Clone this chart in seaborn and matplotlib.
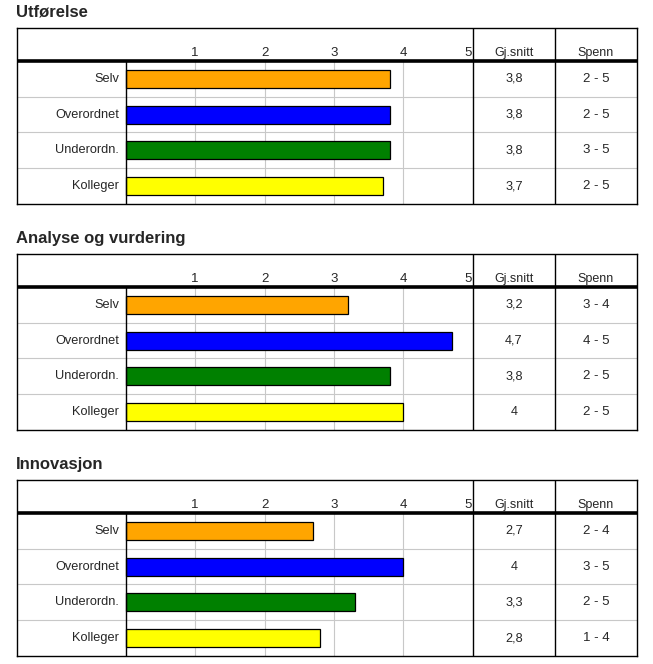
import numpy as np
import matplotlib
matplotlib.use("Agg")
import matplotlib.pyplot as plt
import seaborn as sns

# --- data ---
categories = ['Selv', 'Overordnet', 'Underordn.', 'Kolleger']
bar_colors = ['#FFA500', '#0000FF', '#008000', '#FFFF00']
scale_ticks = [1, 2, 3, 4, 5]

titles = ['Utførelse', 'Analyse og vurdering', 'Innovasjon']
utforelse_avg = [3.8, 3.8, 3.8, 3.7]
utforelse_span = ['2 - 5', '2 - 5', '3 - 5', '2 - 5']
analyse_avg = [3.2, 4.7, 3.8, 4.0]
analyse_span = ['3 - 4', '4 - 5', '2 - 5', '2 - 5']
innovasjon_avg = [2.7, 4.0, 3.3, 2.8]
innovasjon_span = ['2 - 4', '3 - 5', '2 - 5', '1 - 4']

averages = [utforelse_avg, analyse_avg, innovasjon_avg]
spans = [utforelse_span, analyse_span, innovasjon_span]

sns.set_style('white')
plt.rcParams['font.family'] = ['Liberation Sans', 'DejaVu Sans']

W, H = 653, 664
fig = plt.figure(figsize=(W / 100, H / 100), dpi=100)

# table geometry in pixels (box left/right, zero of scale, px per unit)
box_l, box_r = 17, 637
x0_px, unit_px = 125.5, 69.5
box_tops = [28, 254, 480]
box_h = 176
xmin = (box_l - x0_px) / unit_px
xmax = (box_r - x0_px) / unit_px
col_avg = 5.0
col_span = (555 - x0_px) / unit_px
xc_avg = (col_avg + col_span) / 2
xc_span = (col_span + xmax) / 2
y_head = -1.42
grid_c = '#c8c8c8'


def fmt(v):
    return f'{v:g}'.replace('.', ',')


for title, avg, span, top in zip(titles, averages, spans, box_tops):
    ax = fig.add_axes([box_l / W, (H - top - box_h) / H, (box_r - box_l) / W, box_h / H])
    sns.barplot(x=avg, y=categories, hue=categories, palette=bar_colors, orient='h',
                width=0.5, edgecolor='black', linewidth=0.9, legend=False,
                saturation=1, ax=ax, zorder=3)
    ax.set_xlim(xmin, xmax)
    ax.set_ylim(3.5, y_head)
    ax.set_xticks([])
    ax.set_yticks([])
    ax.set_xlabel('')
    ax.set_ylabel('')
    for s in ax.spines.values():
        s.set_color('black')
        s.set_linewidth(1)
        s.set_visible(True)

    # grid lines of the scale
    for t in scale_ticks[:-1]:
        ax.plot([t, t], [-0.5, 3.5], color=grid_c, lw=0.8, zorder=1)
    # row separators
    for i in range(len(categories) - 1):
        ax.plot([xmin, xmax], [i + 0.5, i + 0.5], color=grid_c, lw=0.8, zorder=1)
    # table frame lines
    ax.plot([0, 0], [-0.5, 3.5], color='black', lw=1, zorder=4)
    ax.plot([col_avg, col_avg], [y_head, 3.5], color='black', lw=1, zorder=4)
    ax.plot([col_span, col_span], [y_head, 3.5], color='black', lw=1, zorder=4)
    ax.plot([xmin, xmax], [-0.5, -0.5], color='black', lw=2.6, zorder=5)

    # header
    for t in scale_ticks:
        ha = 'right' if t == scale_ticks[-1] else 'center'
        ax.text(t - (0.015 if ha == 'right' else 0), -0.72, str(t), ha=ha, va='center', fontsize=9.5)
    ax.text(xc_avg, -0.72, 'Gj.snitt', ha='center', va='center', fontsize=9)
    ax.text(xc_span, -0.72, 'Spenn', ha='center', va='center', fontsize=9)

    # row labels and values
    for i, cat in enumerate(categories):
        ax.text(-0.09, i, cat, ha='right', va='center', fontsize=9.2)
        ax.text(xc_avg, i, fmt(avg[i]), ha='center', va='center', fontsize=9.2)
        ax.text(xc_span, i, span[i], ha='center', va='center', fontsize=9.5)

    ax.text(-0.002, 1 + 16 / box_h, title, transform=ax.transAxes, ha='left', va='center',
            fontsize=12, fontweight='bold')

fig.savefig('out.png', dpi=100)
